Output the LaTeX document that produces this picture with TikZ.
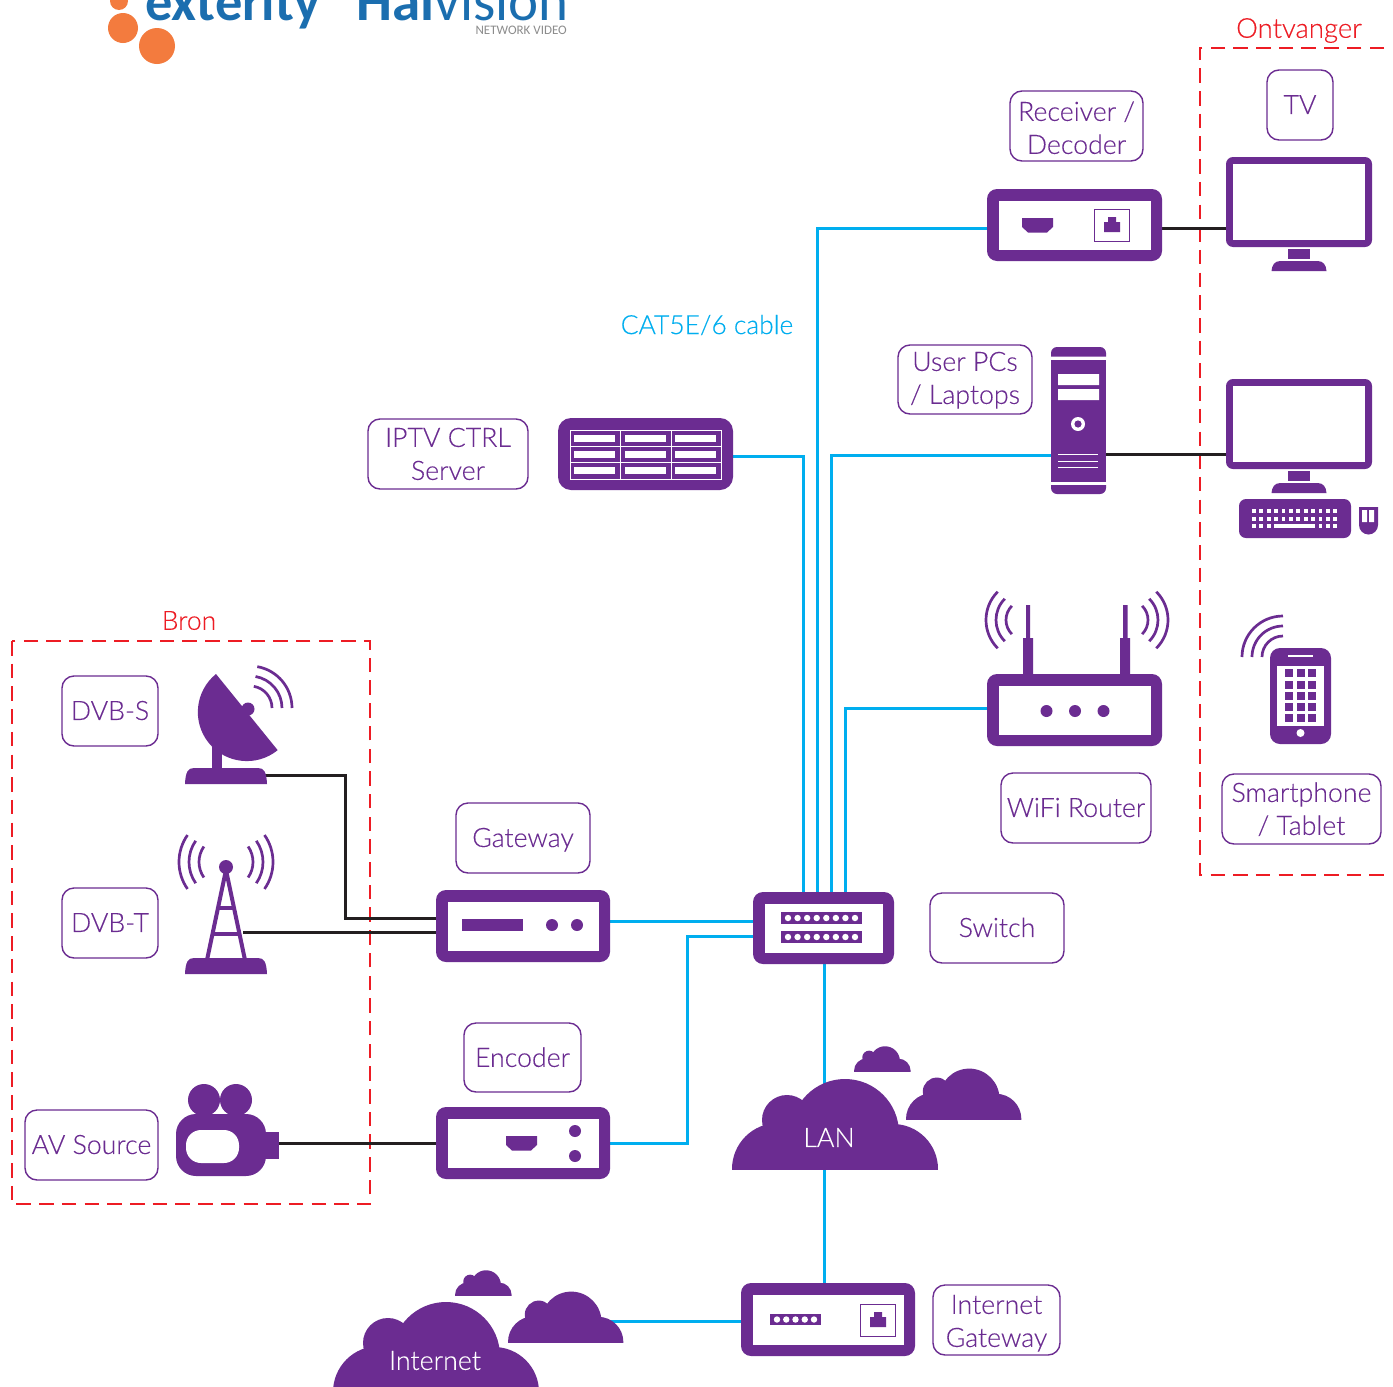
\documentclass[tikz,border=0pt]{standalone}
\usepackage{fontspec}
\setmainfont{Carlito}
\newfontfamily\thinfont[FakeBold=0.25]{Lato Light}
\usetikzlibrary{calc}
\definecolor{brand}{RGB}{107,44,145}
\definecolor{cable}{RGB}{0,174,239}
\definecolor{redline}{RGB}{237,28,36}
\definecolor{blackline}{RGB}{35,31,32}
\definecolor{logoblue}{RGB}{27,110,175}
\definecolor{logoorange}{RGB}{243,123,62}
\pgfdeclarelayer{back}
\pgfsetlayers{back,main}
\tikzset{
  devbox/.style={rectangle,rounded corners=10pt,fill=brand,inner sep=0pt,outer sep=0pt},
  solidpart/.style={rectangle,fill=brand,inner sep=0pt,outer sep=0pt},
  lab/.style={rectangle,rounded corners=12pt,draw=brand,line width=1.4pt,fill=white,inner sep=0pt,outer sep=0pt,align=center,text=brand,font=\thinfont\fontsize{26.7}{33}\selectfont},
  cat/.style={draw=cable,line width=3pt},
  coax/.style={draw=blackline,line width=3pt},
  zone/.style={draw=redline,line width=2.8pt,dash pattern=on 14.5pt off 8.2pt},
  wave/.style={draw=brand,line width=2.7pt},
  cloudtext/.style={text=white,inner sep=0pt,font=\thinfont\fontsize{26.8}{33}\selectfont},
  redtext/.style={text=redline,inner sep=0pt},
}
% dy name x0 y0 x1 y1 text
\newcommand{\mylab}[7][8.6]{\node[lab,minimum width={(#5-#3)*1pt},minimum height={(#6-#4)*1pt}] (#2) at ({(#3+#5)/2},{(#4+#6)/2}) {\raisebox{-#1pt}[0pt][0pt]{\begin{tabular}{@{}c@{}}#7\end{tabular}}};}
% name x0 y0 x1 y1
\newcommand{\mydev}[5]{\node[devbox,minimum width={(#4-#2)*1pt},minimum height={(#5-#3)*1pt}] (#1) at ({(#2+#4)/2},{(#3+#5)/2}) {};
  \fill[white] ({#2+11.5},{#3+11.5}) rectangle ({#4-11.5},{#5-11.5});}
\newcommand{\mymonitor}[2]{% name, top y
  \node[devbox,rounded corners=7pt,minimum width=146pt,minimum height=90pt] (#1) at (1299,{#2+45}) {};
  \fill[white] (1233,{#2+7}) rectangle (1365,{#2+83});
  \fill[brand] (1288,{#2+92}) rectangle (1310,{#2+102});
  \mydome{1271.5}{1326.5}{#2+104}{#2+114}}
\newcommand{\mydome}[4]{\fill[brand] (#1,{#4}) .. controls (#1+0.5,{#3+4}) and (#1+3,{#3}) .. (#1+9,{#3}) -- (#2-9,{#3}) .. controls (#2-3,{#3}) and (#2-0.5,{#3+4}) .. (#2,{#4}) -- cycle;}
\newcommand{\myhdmi}[2]{\fill[brand] (#1,#2) -- ++(31,0) -- ++(0,9) -- ++(-6,5.5) -- ++(-19,0) -- ++(-6,-5.5) -- cycle;}
\newcommand{\myjack}[2]{% box top-left, size 34x32
  \draw[brand,line width=1pt] (#1,#2) rectangle ++(35,32);
  \fill[brand] ({#1+10},{#2+23}) -- ++(0,-10) -- ++(4,0) -- ++(0,-5) -- ++(8,0) -- ++(0,5) -- ++(4,0) -- ++(0,10) -- cycle;}
\newcommand{\mycloud}[3]{\begin{scope}[shift={(#1,#2)},x=#3pt,y=#3pt]
  \begin{scope}\clip (-1,0) rectangle (210,100);
  \fill[brand] (46,0) circle (46) (161,0) circle (45) (55,49) circle (25) (113,36) circle (54);
  \fill[brand] (46,0) rectangle (161,40);\end{scope}\end{scope}}
\newcommand{\mystrip}[5]{% x0 y0 x1 y1 dots
  \fill[brand] (#1,#2) rectangle (#3,#4);
  \foreach \k in {1,...,#5} {\fill[white] ({#1+7+(\k-1)*(#3-#1-14)/(#5-1)},{(#2+#4)/2}) circle (3.2);}}
\begin{document}
\begin{tikzpicture}[x=1pt,y=-1pt]
\useasboundingbox (0,0) rectangle (1393,1387);

% logos
\begin{scope}
\clip (0,0) rectangle (1393,1387);
\fill[logoorange] (119,1) circle (9) (123,28) circle (15) (157,46) circle (18);
\node[anchor=base west,inner sep=0pt,text=logoblue] (exterity) at (145,20) {\fontsize{54.5}{54}\selectfont\bfseries exterity};
\node[anchor=base west,inner sep=0pt,text=logoblue] (haivision) at (356,20) {\fontsize{57}{57}\selectfont\textbf{Hai}vision};
\node[anchor=base east,inner sep=0pt,text=black!45] (netvideo) at (567,34) {\fontsize{13}{13}\selectfont NETWORK VIDEO};
\end{scope}

% texts
\node[redtext,font=\thinfont\fontsize{27.5}{32}\selectfont] (ontv) at (1299,30.5) {Ontvanger};
\node[redtext,font=\thinfont\fontsize{26.5}{30}\selectfont] (bron) at (189,620.5) {Bron};
\node[text=cable,inner sep=0pt,font=\thinfont\fontsize{26.4}{32}\selectfont] (catlabel) at (707,325) {CAT5E/6 cable};

% labels
\mylab[11]{lrecv}{1010}{91}{1143}{161}{Receiver /\\Decoder}
\mylab{ltv}{1267}{70}{1333}{140}{TV}
\mylab[7.5]{lpc}{898}{345}{1032}{414}{User PCs\\/ Laptops}
\mylab[9]{lsrv}{368}{419}{528}{489}{IPTV CTRL\\Server}
\mylab{ldvbs}{62}{676}{158}{746}{DVB-S}
\mylab{ldvbt}{62}{888}{158}{958}{DVB-T}
\mylab{lav}{25}{1110}{158}{1180}{AV Source}
\mylab{lgw}{456}{803}{590}{873}{Gateway}
\mylab[9]{lenc}{464}{1023}{581}{1092}{Encoder}
\mylab{lsw}{930}{893}{1064}{963}{Switch}
\mylab{lwifi}{1001}{773}{1151}{843}{WiFi Router}
\mylab[9]{lphone}{1222}{774}{1381}{844}{Smartphone\\/ Tablet}
\mylab[10]{ligw}{933}{1285}{1060}{1355}{Internet\\Gateway}

% receiver
\mydev{recv}{987}{189}{1162}{261}
\myhdmi{1022}{218}
\myjack{1094}{209}

% monitors
\mymonitor{monA}{157}
\mymonitor{monB}{379}

% keyboard and mouse
\node[devbox,rounded corners=7pt,minimum width=112pt,minimum height=39pt] (kbd) at (1295,518.5) {};
\foreach \i in {0,...,11} {
  \fill[white] ({1252+\i*7.4},509) rectangle ++(3.7,4);
  \fill[white] ({1252+\i*7.4},517) rectangle ++(3.7,4);
}
\foreach \i in {0,1,2,9,10,11} {\fill[white] ({1252+\i*7.4},524) rectangle ++(3.7,4);}
\fill[white] (1274,524) rectangle (1315,528);
\fill[brand] (1359,507) -- (1378,507) -- (1378,525) arc[start angle=0,end angle=180,radius=9.5] -- cycle;
\fill[white] (1362,510) rectangle (1367,522) (1369,510) rectangle (1374,522);

% pc tower
\fill[brand] (1051,356.5) -- (1051,353) arc[start angle=180,end angle=270,radius=6] -- (1100,347) arc[start angle=270,end angle=360,radius=6] -- (1106,356.5) -- cycle;
\node[solidpart,minimum width=55pt,minimum height=122pt] (pc) at (1078.5,420.5) {};
\fill[brand] (1051,485) -- (1106,485) -- (1106,488) arc[start angle=0,end angle=90,radius=6] -- (1057,494) arc[start angle=90,end angle=180,radius=6] -- cycle;
\fill[white] (1058,374) rectangle (1099,385) (1058,389) rectangle (1099,400);
\fill[white] (1078,424) circle (7);
\fill[brand] (1078,424) circle (3.6);
\draw[white,line width=1pt] (1058,454) -- (1098,454) (1058,461) -- (1098,461) (1058,467) -- (1098,467);

% iptv server
\node[devbox,rounded corners=13pt,minimum width=175pt,minimum height=72pt] (srv) at (645.5,454) {};
\draw[white,line width=1pt] (570,430) rectangle (721,479);
\draw[white,line width=1pt] (620,430) -- (620,479) (671,430) -- (671,479) (570,446) -- (721,446) (570,462) -- (721,462);
\foreach \cx in {574,625,675} {
  \foreach \cy in {435,451,467} {\fill[white] (\cx,\cy) rectangle ++(41,7);}
}

% router
\fill[brand] (1023,638) rectangle (1033,680) (1026,605) rectangle (1030,640);
\fill[brand] (1120,638) rectangle (1130,680) (1123,605) rectangle (1127.5,640);
\mydev{router}{987}{674}{1162}{746}
\fill[brand] (1046.5,711) circle (6) (1075,711) circle (6) (1103.5,711) circle (6);
\foreach \r in {20,30,40} {
  \draw[wave] ({1026+\r*cos(135)},{620+\r*sin(135)}) arc[start angle=135,end angle=225,radius=\r];
  \draw[wave] ({1128+\r*cos(-45)},{620+\r*sin(-45)}) arc[start angle=-45,end angle=45,radius=\r];
}

% phone
\node[devbox,minimum width=61pt,minimum height=96pt] (phone) at (1300.5,696) {};
\fill[white] (1277,666) rectangle (1324,726);
\fill[white] (1288,655) rectangle (1313,657);
\fill[white] (1300.5,733) circle (4);
\foreach \kx in {1285,1296.5,1308} {
  \foreach \ky in {669,681,692,703,714} {\fill[brand] (\kx,\ky) rectangle ++(8,8);}
}
\foreach \r in {21,31,41} {
  \draw[wave] ({1283-\r},657) arc[start angle=180,end angle=270,radius=\r];
}

% dish
\fill[brand] (212,735) rectangle (222,770);
\fill[brand] (216,674) arc[start angle=231,end angle=51,radius=49] -- cycle;
\fill[brand] (248,709) circle (6.5);
\mydome{185}{267}{768}{784}
\coordinate (dishport) at (262,775);
\foreach \r in {22,32,42} {
  \draw[wave] ({250+\r*cos(280)},{708+\r*sin(280)}) arc[start angle=280,end angle=360,radius=\r];
}

% tower
\draw[brand,line width=4pt] (207,960) -- (226,870) -- (245,960);
\draw[brand,line width=3.6pt] (217,908) -- (235,908) (211,934) -- (241,934);
\fill[brand] (226,867) circle (7);
\mydome{185}{267}{958}{974}
\coordinate (towerport) at (243,932);
\foreach \r in {27,37,47} {
  \draw[wave] ({226+\r*cos(145)},{862+\r*sin(145)}) arc[start angle=145,end angle=215,radius=\r];
  \draw[wave] ({226+\r*cos(-35)},{862+\r*sin(-35)}) arc[start angle=-35,end angle=35,radius=\r];
}

% camera
\fill[brand] (204,1100) circle (16) (236,1100) circle (16);
\node[devbox,rounded corners=20pt,minimum width=90pt,minimum height=62pt] (cam) at (221,1145) {};
\fill[white,rounded corners=15pt] (186,1130) rectangle (239,1163);
\node[solidpart,minimum width=14pt,minimum height=27pt] (nozzle) at (272,1145) {};

% gateway
\mydev{gw}{436}{890}{610}{962}
\fill[brand] (462,919) rectangle (523,931);
\fill[brand] (552,925) circle (6) (577,925) circle (6);

% encoder
\mydev{enc}{436}{1107}{610}{1179}
\myhdmi{506}{1136}
\fill[brand] (575,1131) circle (6) (575,1156) circle (6);

% switch
\mydev{sw}{753}{892}{894}{964}
\mystrip{781}{912}{862}{924}{8}
\mystrip{781}{931}{862}{943}{8}

% internet gateway
\mydev{igw}{741}{1283}{915}{1356}
\mystrip{770}{1314}{821}{1325}{5}
\myjack{860}{1304}

% clouds
\mycloud{732}{1169}{1}
\mycloud{906}{1119}{0.56}
\mycloud{854}{1071}{0.275}
\mycloud{333}{1392}{1}
\mycloud{508}{1342}{0.56}
\mycloud{455}{1295}{0.275}
\node[cloudtext] (lan) at (829,1137.5) {LAN};
\node[cloudtext] (inet) at (435,1360.5) {Internet};
\coordinate (inetport) at (610,1321);

% connectors and zones, below the devices
\begin{pgfonlayer}{back}
\fill[white] (0,0) rectangle (1393,1387);
\draw[zone] (1384,48) -- (1200,48) -- (1200,875) -- (1384,875);
\draw[zone] (12,641) rectangle (370,1204);
\draw[cat] ([yshift=-3pt]recv.west) -| ([xshift=-6pt]sw.north);
\draw[cat] ([yshift=-2pt]srv.east) -| ([xshift=-20.5pt]sw.north);
\draw[cat] ([yshift=-34.5pt]pc.west) -| ([xshift=7.5pt]sw.north);
\draw[cat] ([yshift=2pt]router.west) -| ([xshift=21.5pt]sw.north);
\draw[cat] ([yshift=5pt]gw.east) -- ([yshift=5pt]gw.east -| sw.west);
\draw[cat] (enc.east) -- ++(77,0) |- ([yshift=-8pt]sw.west);
\draw[cat] ([xshift=0.5pt]sw.south) -- ([xshift=0.5pt]sw.south |- igw.north);
\draw[cat] (inetport) -- (inetport -| igw.west);
\draw[coax] ([yshift=-3pt]recv.east) -- ([yshift=-3pt]recv.east -| monA.west);
\draw[coax] ([yshift=-33.5pt]pc.east) -- ([yshift=-33.5pt]pc.east -| monB.west);
\draw[coax] (dishport) -- ++(83,0) |- ([yshift=8pt]gw.west);
\draw[coax] (towerport) -- (towerport -| gw.west);
\draw[coax] (enc.west) -- (enc.west -| nozzle.east);
\end{pgfonlayer}
\end{tikzpicture}
\end{document}
